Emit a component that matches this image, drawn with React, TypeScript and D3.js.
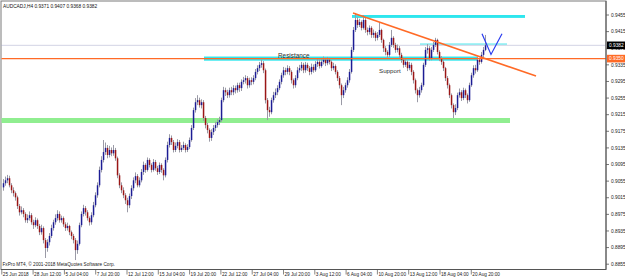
import React from "react";
import * as d3 from "d3";

// AUDCADJ H4 — prices stored in 1/10000 units (9050 = 0.9050)
const opens = [
9040,9050,9057,9062,9045,9033,9026,9016,8995,8980,
8985,8976,8961,8966,8973,8956,8949,8961,8947,8932,
8942,8913,8894,8908,8923,8942,8956,8966,8976,8961,
8966,8951,8942,8947,8932,8923,8913,8889,8904,8949,
8976,8990,8980,8966,8956,8973,8997,9021,9045,9082,
9106,9125,9135,9118,9130,9122,9130,9110,9069,9045,
9033,9021,9009,8997,9019,9038,9057,9067,9045,9057,
9077,9094,9082,9106,9094,9082,9101,9086,9077,9094,
9082,9069,9106,9142,9159,9149,9130,9140,9149,9130,
9135,9142,9130,9137,9154,9183,9226,9245,9250,9238,
9245,9207,9190,9178,9159,9173,9183,9190,9197,9202,
9250,9274,9269,9262,9274,9269,9279,9274,9286,9279,
9294,9298,9303,9286,9298,9294,9303,9318,9327,9335,
9339,9322,9250,9226,9221,9250,9262,9269,9279,9294,
9310,9322,9318,9327,9318,9298,9286,9303,9322,9327,
9335,9322,9335,9327,9318,9330,9322,9337,9342,9332,
9342,9347,9339,9347,9342,9327,9332,9318,9303,9286,
9262,9274,9286,9298,9318,9371,9419,9443,9431,9438,
9424,9443,9419,9414,9424,9407,9412,9400,9407,9419,
9395,9375,9366,9359,9383,9400,9383,9371,9375,9359,
9347,9335,9342,9327,9335,9318,9298,9274,9262,9274,
9286,9335,9371,9375,9351,9371,9383,9395,9366,9351,
9342,9327,9303,9286,9262,9238,9221,9231,9262,9269,
9255,9274,9262,9250,9286,9310,9327,9322,9347,9342,
9359,9371];
const highs = [
9060,9066,9070,9068,9050,9040,9030,9020,9000,8994,
8990,8980,8975,8982,8978,8962,8968,8965,8952,8950,
8946,8918,8915,8930,8950,8962,8975,8985,8982,8972,
8970,8956,8955,8950,8936,8928,8918,8912,8955,8982,
8998,8995,8985,8970,8980,9005,9028,9052,9090,9115,
9154,9148,9142,9140,9136,9142,9135,9114,9074,9052,
9040,9026,9015,9025,9045,9064,9076,9072,9064,9084,
9102,9098,9112,9110,9098,9108,9106,9092,9100,9098,
9086,9112,9150,9168,9165,9154,9148,9156,9154,9142,
9150,9146,9144,9160,9190,9232,9255,9262,9256,9252,
9250,9212,9195,9182,9180,9190,9198,9204,9210,9256,
9282,9280,9275,9280,9282,9286,9285,9292,9292,9300,
9306,9310,9308,9304,9305,9310,9325,9334,9342,9347,
9344,9326,9255,9234,9256,9270,9278,9286,9300,9316,
9330,9328,9334,9332,9322,9302,9310,9330,9335,9342,
9340,9342,9340,9332,9338,9336,9344,9350,9348,9350,
9355,9352,9354,9352,9346,9340,9336,9322,9308,9290,
9282,9292,9305,9325,9378,9426,9460,9450,9446,9442,
9455,9448,9425,9430,9428,9420,9416,9414,9438,9422,
9398,9380,9370,9390,9419,9404,9388,9384,9380,9364,
9352,9350,9346,9342,9340,9322,9302,9278,9282,9292,
9340,9378,9385,9380,9378,9390,9400,9398,9370,9356,
9346,9330,9308,9290,9266,9242,9240,9268,9278,9274,
9280,9278,9266,9292,9316,9334,9335,9354,9352,9366,
9378,9407];
const lows = [
9032,9044,9050,9040,9026,9018,9008,8988,8972,8975,
8968,8955,8954,8960,8950,8940,8944,8940,8925,8926,
8905,8870,8885,8900,8918,8936,8950,8960,8955,8955,
8945,8935,8936,8925,8915,8905,8865,8880,8900,8944,
8970,8972,8960,8948,8950,8968,8992,9015,9040,9076,
9100,9118,9110,9112,9115,9116,9104,9062,9038,9026,
9014,9000,8980,8990,9012,9032,9050,9040,9040,9052,
9070,9075,9078,9088,9076,9078,9080,9070,9072,9075,
9057,9064,9100,9136,9142,9124,9125,9134,9124,9125,
9130,9124,9125,9132,9150,9178,9220,9238,9232,9230,
9200,9182,9170,9150,9152,9166,9176,9184,9190,9198,
9245,9260,9255,9256,9262,9262,9266,9268,9270,9272,
9288,9290,9278,9280,9286,9288,9298,9312,9320,9328,
9315,9242,9202,9210,9216,9244,9255,9262,9274,9288,
9304,9310,9312,9310,9290,9278,9280,9298,9316,9320,
9315,9316,9320,9310,9312,9316,9318,9330,9326,9328,
9336,9332,9334,9336,9320,9322,9312,9296,9278,9238,
9255,9268,9280,9292,9314,9366,9414,9424,9426,9418,
9420,9412,9406,9408,9400,9400,9392,9394,9402,9388,
9366,9358,9350,9354,9378,9376,9364,9365,9352,9340,
9328,9330,9320,9322,9310,9290,9266,9245,9256,9268,
9282,9330,9362,9345,9346,9366,9378,9360,9344,9335,
9320,9296,9278,9255,9230,9207,9214,9226,9256,9248,
9250,9255,9242,9246,9282,9304,9314,9318,9335,9338,
9352,9368];
const closes = [
9050,9057,9062,9045,9033,9026,9016,8995,8980,8985,
8976,8961,8966,8973,8956,8949,8961,8947,8932,8942,
8913,8894,8908,8923,8942,8956,8966,8976,8961,8966,
8951,8942,8947,8932,8923,8913,8889,8904,8949,8976,
8990,8980,8966,8956,8973,8997,9021,9045,9082,9106,
9125,9135,9118,9130,9122,9130,9110,9069,9045,9033,
9021,9009,8997,9019,9038,9057,9067,9045,9057,9077,
9094,9082,9106,9094,9082,9101,9086,9077,9094,9082,
9069,9106,9142,9159,9149,9130,9140,9149,9130,9135,
9142,9130,9137,9154,9183,9226,9245,9250,9238,9245,
9207,9190,9178,9159,9173,9183,9190,9197,9202,9250,
9274,9269,9262,9274,9269,9279,9274,9286,9279,9294,
9298,9303,9286,9298,9294,9303,9318,9327,9335,9339,
9322,9250,9226,9221,9250,9262,9269,9279,9294,9310,
9322,9318,9327,9318,9298,9286,9303,9322,9327,9335,
9322,9335,9327,9318,9330,9322,9337,9342,9332,9342,
9347,9339,9347,9342,9327,9332,9318,9303,9286,9262,
9274,9286,9298,9318,9371,9419,9443,9431,9438,9424,
9443,9419,9414,9424,9407,9412,9400,9407,9419,9395,
9375,9366,9359,9383,9400,9383,9371,9375,9359,9347,
9335,9342,9327,9335,9318,9298,9274,9262,9274,9286,
9335,9371,9375,9351,9371,9383,9395,9366,9351,9342,
9327,9303,9286,9262,9238,9221,9231,9262,9269,9255,
9274,9262,9250,9286,9310,9327,9322,9347,9342,9359,
9371,9382];

const priceTicks = [0.9455,0.9415,0.9375,0.9335,0.9295,0.9255,0.9215,0.9175,0.9135,0.9095,0.9055,0.9015,0.8975,0.8935,0.8895,0.8855];
const timeLabels = ["25 Jun 2018","28 Jun 12:00","5 Jul 04:00","7 Jul 20:00","12 Jul 12:00","15 Jul 04:00","19 Jul 20:00","22 Jul 12:00","27 Jul 04:00","29 Jul 20:00","3 Aug 12:00","6 Aug 04:00","10 Aug 20:00","13 Aug 12:00","18 Aug 04:00","20 Aug 20:00"];
const title = "AUDCADJ,H4  0.9371 0.9407 0.9368 0.9382";
const bidPrice = 0.9382;
const hLinePrice = 0.9350;

const W = 625, H = 278;
const R = 606, B = 269.5;
const font = "'Liberation Sans', Arial, sans-serif";

export default function App() {
  const n = closes.length;
  const x = d3.scaleLinear().domain([0, n - 1]).range([3, 485]);
  const y = d3.scaleLinear().domain([0.8855, 0.9455]).range([264.2, 15]);
  const p = (v: number) => v / 10000;

  const upCol = "#1d1d94", dnCol = "#9a1616", wickCol = "#9a9aa6";
  const orange = "#ff6a26", cyan = "#2ee6ee", green = "#90ee90";

  const trend = d3.line<[number, number]>().x(d => x(d[0])).y(d => y(d[1]));
  const nShape: [number, number][] = [[239.5, 0.9410], [244, 0.9360], [249.5, 0.9410]];

  return (
    <svg width={W} height={H} style={{ position: "fixed", left: 0, top: 0, background: "#fff" }} fontFamily={font}>
      <rect x={0} y={0} width={W} height={H} fill="#fff" />
      {/* frame */}
      <rect x={1} y={1} width={R - 1} height={B - 1} fill="none" stroke="#7a7a7a" strokeWidth={1} />

      {/* annotation bands */}
      <rect x={x(174.5)} y={y(0.9455)} width={x(261) - x(174.5)} height={y(0.9448) - y(0.9455)} fill={cyan} />
      <rect x={x(208.5)} y={y(0.9387)} width={x(252) - x(208.5)} height={y(0.9383) - y(0.9387)} fill="#8ef0f4" />
      <rect x={x(100.5)} y={y(0.9355)} width={x(237.5) - x(100.5)} height={y(0.9345) - y(0.9355)} fill={cyan} />
      <rect x={1.5} y={y(0.9207)} width={x(253.5) - 1.5} height={y(0.9195) - y(0.9207)} fill={green} />

      {/* bid line */}
      <line x1={1.5} x2={R} y1={y(bidPrice)} y2={y(bidPrice)} stroke="#a4a8c8" strokeWidth={1} strokeDasharray="1,1" />

      {/* candles */}
      {closes.map((c, i) => {
        const o = opens[i];
        const up = c >= o;
        const cx = x(i);
        const top = y(p(Math.max(o, c)));
        const bot = y(p(Math.min(o, c)));
        return (
          <g key={i}>
            <line x1={cx + 0.5} x2={cx + 0.5} y1={y(p(highs[i]))} y2={y(p(lows[i]))} stroke={wickCol} strokeWidth={1} />
            <rect x={cx - 0.2} y={top} width={1.5} height={Math.max(1, bot - top)} fill={up ? upCol : dnCol} />
          </g>
        );
      })}

      {/* horizontal orange line */}
      <line x1={1.5} x2={R} y1={y(hLinePrice)} y2={y(hLinePrice)} stroke={orange} strokeWidth={1.3} />
      {/* trend line */}
      <path d={trend([[175, 0.9460], [266.5, 0.9308]]) || ""} stroke={orange} strokeWidth={1.5} fill="none" />
      {/* projection */}
      <path d={trend(nShape) || ""} stroke="#2a3cf0" strokeWidth={1.2} fill="none" />

      {/* labels */}
      <text x={278} y={58} fontSize={6.4} fill="#303030">Resistance</text>
      <text x={379} y={73} fontSize={6.2} fill="#303030">Support</text>
      <text x={3} y={7.5} fontSize={4.8} fill="#111">{title}</text>
      <text x={2.5} y={266} fontSize={4.7} fill="#222">FxPro MT4, © 2001-2018 MetaQuotes Software Corp.</text>

      {/* right axis */}
      <line x1={R} x2={R} y1={1} y2={B} stroke="#555" strokeWidth={1} />
      {priceTicks.map((t, i) => (
        <g key={i}>
          <line x1={R} x2={R + 3} y1={y(t)} y2={y(t)} stroke="#555" strokeWidth={0.8} />
          <text x={R + 5} y={y(t)} dy="0.35em" fontSize={4.8} fill="#222">{t.toFixed(4)}</text>
        </g>
      ))}
      <rect x={R + 1} y={y(bidPrice) - 3.8} width={18} height={7.6} fill="#000" />
      <text x={R + 3} y={y(bidPrice)} dy="0.35em" fontSize={4.8} fill="#fff">{bidPrice.toFixed(4)}</text>
      <rect x={R + 1} y={y(hLinePrice) - 3.8} width={18} height={7.6} fill={orange} />
      <text x={R + 3} y={y(hLinePrice)} dy="0.35em" fontSize={4.8} fill="#fff">{hLinePrice.toFixed(4)}</text>

      {/* bottom axis */}
      <line x1={1} x2={R} y1={B} y2={B} stroke="#555" strokeWidth={1} />
      {timeLabels.map((t, k) => {
        const tx = x(k * 15.65 - 0.6);
        return (
          <g key={k}>
            <line x1={tx} x2={tx} y1={B} y2={B + 5} stroke="#555" strokeWidth={0.7} />
            <text x={tx + 1} y={275.5} fontSize={4.7} fill="#222">{t}</text>
          </g>
        );
      })}
    </svg>
  );
}
